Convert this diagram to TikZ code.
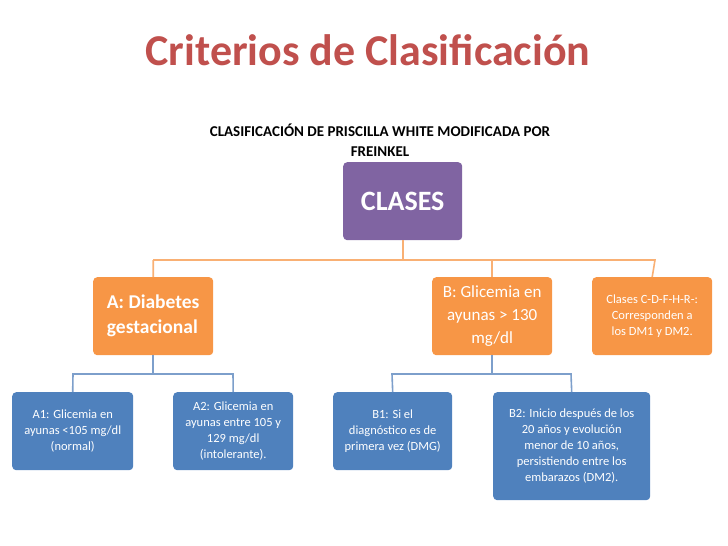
\documentclass[tikz,border=0pt]{standalone}
\usepackage{fontspec}
\setmainfont{Carlito}
\begin{document}
\begin{tikzpicture}[x=1pt,y=-1pt]
\definecolor{tred}{HTML}{C0504D}
\definecolor{purp}{HTML}{8064A2}
\definecolor{orng}{HTML}{F79646}
\definecolor{blu}{HTML}{4F81BD}
\definecolor{lorng}{HTML}{F9B074}
\definecolor{lblu}{HTML}{7D9FCB}
\tikzset{
 bx/.style={rounded corners=4pt,text=white,align=center,inner sep=2pt},
 ob/.style={bx,fill=orng,minimum width=120pt,minimum height=78pt},
 bb/.style={bx,fill=blu,minimum width=120pt,minimum height=78pt,font=\fontsize{12.5}{16}\selectfont},
 ol/.style={draw=lorng,line width=1.6pt},
 bl/.style={draw=lblu,line width=1.6pt}
}
\useasboundingbox (0,0) rectangle (728,546);
\node[font=\bfseries\fontsize{44}{50}\selectfont,text=tred] (t) at (368,50) {Criterios de Clasificación};
\node[font=\bfseries\fontsize{15}{20}\selectfont,align=center] (s) at (380,140) {CLASIFICACIÓN DE PRISCILLA WHITE MODIFICADA POR\\FREINKEL};
\node[bx,fill=purp,minimum width=119pt,minimum height=78pt,font=\bfseries\fontsize{28}{32}\selectfont,anchor=north west] (c) at (343,162) {CLASES};
\node[ob,anchor=north west,font=\bfseries\fontsize{19.5}{25}\selectfont,align=left] (a) at (93,277) {A: Diabetes\\gestacional};
\node[ob,anchor=north west,font=\fontsize{17}{23}\selectfont] (b) at (432,277) {B: Glicemia en\\ayunas > 130\\mg/dl};
\node[ob,anchor=north west,font=\fontsize{12.5}{16}\selectfont] (cc) at (592,277) {Clases C-D-F-H-R-:\\Corresponden a\\los DM1 y DM2.};
\node[bb,anchor=north west,minimum width=121pt] (a1) at (12,392) {A1: Glicemia en\\ayunas <105 mg/dl\\(normal)};
\node[bb,anchor=north west] (a2) at (173,392) {A2: Glicemia en\\ayunas entre 105 y\\129 mg/dl\\(intolerante).};
\node[bb,anchor=north west,minimum width=119pt] (b1) at (333,392) {B1: Si el\\diagnóstico es de\\primera vez (DMG)};
\node[bb,anchor=north west,minimum width=157pt,minimum height=108pt] (b2) at (493,392) {B2: Inicio después de los\\20 años y evolución\\menor de 10 años,\\persistiendo entre los\\embarazos (DM2).};
\coordinate (hA) at (153,260);
\coordinate (hB) at (655,260);
\draw[ol] (c.south) -- (c.south |- hA);
\draw[ol] (a.north) |- (hA) -- (hB) -- (cc.north);
\draw[ol] (b.north) -- (b.north |- hA);
\coordinate (ha1) at (73,374);
\coordinate (ha2) at (233,374);
\draw[bl] (a.south) -- (a.south |- ha1);
\draw[bl] (a1.north) -- (ha1) -- (ha2) -- (a2.north);
\coordinate (hb1) at (392,374);
\coordinate (hb2) at (571,374);
\draw[bl] (b.south) -- (b.south |- hb1);
\draw[bl] (b1.north) -- (hb1) -- (hb2) -- (b2.north);
\end{tikzpicture}
\end{document}
